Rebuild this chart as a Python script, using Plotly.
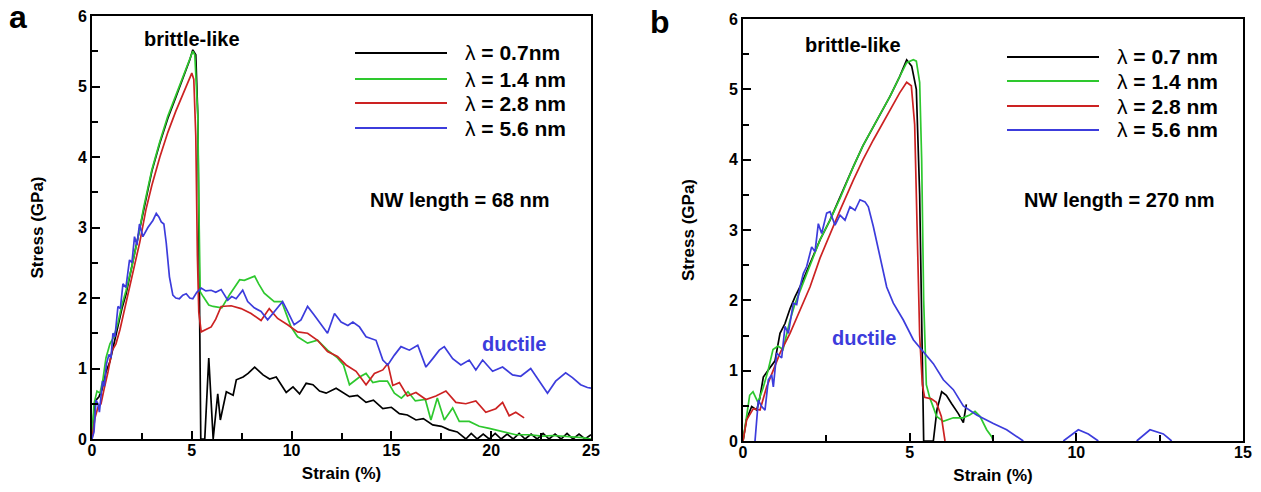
import plotly.graph_objects as go

# ---------------- data: panel a (NW length = 68 nm) ----------------
a07_x = [0, 0.1, 0.2, 0.35, 0.5, 0.7, 0.9, 1.1, 1.3, 1.5, 1.7, 2.0, 2.3, 2.6, 3.0, 3.4, 3.8, 4.2, 4.6, 4.9, 5.05,
         5.2, 5.3, 5.38, 5.45, 5.65, 5.85, 6.07, 6.3, 6.43, 6.73, 7.07, 7.23, 7.57, 7.82, 8.15, 8.57, 8.9, 9.23,
         9.73, 10.07, 10.4, 10.73, 11.07, 11.4, 11.73, 12.23, 12.9, 13.3, 13.73, 14.1, 14.57, 15.0, 15.4, 15.8,
         16.23, 16.6, 17.07, 17.5, 17.9, 18.3, 18.73, 19.0, 19.3, 19.6, 19.9, 20.2, 20.5, 20.8, 21.1, 21.4, 21.7,
         22.0, 22.3, 22.6, 22.9, 23.2, 23.5, 23.8, 24.1, 24.4, 24.7, 25.0]
a07_y = [0, 0.4, 0.55, 0.6, 0.7, 0.95, 1.1, 1.35, 1.6, 1.85, 2.05, 2.45, 2.85, 3.3, 3.8, 4.2, 4.55, 4.85, 5.15,
         5.38, 5.52, 5.45, 4.6, 2.5, 0, 0, 1.15, 0, 0.64, 0.27, 0.67, 0.62, 0.84, 0.88, 0.93, 1.02, 0.91, 0.85,
         0.88, 0.66, 0.74, 0.64, 0.79, 0.77, 0.68, 0.65, 0.72, 0.6, 0.62, 0.52, 0.55, 0.43, 0.45, 0.36, 0.34,
         0.27, 0.29, 0.2, 0.18, 0.13, 0.1, 0.0, 0.08, 0.0, 0.07, 0.0, 0.08, 0.0, 0.07, 0.0, 0.08, 0.0, 0.07,
         0.0, 0.08, 0.0, 0.07, 0.0, 0.08, 0.0, 0.07, 0.0, 0.06]

a14_x = [0, 0.1, 0.25, 0.4, 0.55, 0.7, 0.9, 1.1, 1.3, 1.5, 1.7, 2.0, 2.3, 2.6, 3.0, 3.4, 3.8, 4.2, 4.6, 4.9, 5.05,
         5.15, 5.3, 5.36, 5.42, 5.57, 5.85, 6.07, 6.5, 6.9, 7.4, 7.63, 8.15, 8.35, 8.63, 9.13, 9.5, 9.75, 9.97,
         10.3, 10.8, 11.3, 11.8, 12.3, 12.6, 12.9, 13.4, 13.73, 14.07, 14.4, 14.8, 15.15, 15.5, 15.83, 16.2, 16.7,
         16.98, 17.3, 17.65, 18.07, 18.4, 18.9, 19.4, 19.9, 20.57, 21.23, 21.9, 22.57, 23.1, 23.57, 24.1, 24.57, 25.0]
a14_y = [0, 0.5, 0.68, 0.65, 0.85, 1.15, 1.35, 1.45, 1.65, 1.9, 2.1, 2.45, 2.85, 3.3, 3.82, 4.22, 4.58, 4.88,
         5.18, 5.4, 5.5, 5.45, 4.6, 3.2, 2.09, 2.02, 1.9, 1.88, 1.86, 2.05, 2.26, 2.25, 2.31, 2.2, 2.07, 1.95,
         1.95, 1.76, 1.59, 1.45, 1.36, 1.4, 1.26, 1.15, 1.05, 0.77, 0.88, 0.93, 0.8, 0.82, 0.82, 0.65, 0.58,
         0.67, 0.54, 0.56, 0.27, 0.58, 0.27, 0.44, 0.25, 0.25, 0.18, 0.15, 0.11, 0.06, 0.06, 0.04, 0.05, 0.04,
         0.03, 0.02, 0.0]

a28_x = [0, 0.15, 0.3, 0.45, 0.6, 0.8, 1.0, 1.2, 1.4, 1.6, 1.8, 2.1, 2.4, 2.7, 3.0, 3.4, 3.8, 4.2, 4.6, 4.9, 5.0,
         5.1, 5.2, 5.28, 5.35, 5.47, 5.7, 5.97, 6.2, 6.47, 6.97, 7.47, 7.97, 8.47, 8.88, 9.3, 9.8, 10.3, 10.8,
         11.3, 11.8, 12.3, 12.73, 13.23, 13.73, 14.15, 14.57, 14.82, 15.07, 15.4, 15.8, 16.23, 16.73, 17.23,
         17.73, 18.23, 18.73, 19.23, 19.73, 20.23, 20.57, 20.9, 21.23, 21.65]
a28_y = [0, 0.3, 0.45, 0.5, 0.7, 0.95, 1.25, 1.35, 1.55, 1.8, 2.05, 2.4, 2.8, 3.25, 3.6, 4.0, 4.35, 4.65, 4.93,
         5.12, 5.19, 5.1, 4.3, 2.6, 1.8, 1.52, 1.55, 1.59, 1.7, 1.88, 1.89, 1.85, 1.78, 1.68, 1.85, 1.71, 1.62,
         1.52, 1.5, 1.4, 1.24, 1.17, 1.05, 0.96, 0.77, 0.93, 0.98, 1.07, 0.76, 0.8, 0.61, 0.66, 0.56, 0.61, 0.68,
         0.52, 0.5, 0.54, 0.38, 0.43, 0.52, 0.33, 0.38, 0.3]

a56_x = [0, 0.1, 0.2, 0.3, 0.37, 0.45, 0.53, 0.62, 0.72, 0.85, 0.95, 1.05, 1.15, 1.3, 1.42, 1.55, 1.7, 1.88, 2.0,
         2.13, 2.25, 2.38, 2.55, 2.8, 3.05, 3.22, 3.35, 3.47, 3.6, 3.72, 3.88, 4.05, 4.2, 4.38, 4.55, 4.72, 4.9,
         5.05, 5.25, 5.47, 5.7, 5.97, 6.2, 6.47, 6.8, 7.0, 7.22, 7.55, 7.8, 8.13, 8.47, 8.8, 9.13, 9.55, 9.8,
         10.13, 10.47, 10.8, 11.13, 11.47, 11.8, 12.15, 12.48, 12.82, 13.07, 13.4, 13.73, 14.23, 14.57, 14.82,
         15.15, 15.48, 15.9, 16.32, 16.73, 17.07, 17.4, 17.65, 18.07, 18.48, 18.9, 19.23, 19.57, 20.07, 20.57,
         21.07, 21.48, 21.98, 22.4, 22.82, 23.23, 23.73, 24.07, 24.48, 24.82, 25.0]
a56_y = [0, 0.1, 0.55, 0.5, 0.38, 0.6, 0.82, 0.75, 1.06, 1.2, 1.15, 1.5, 1.45, 1.88, 1.85, 2.2, 2.15, 2.54, 2.5,
         2.87, 2.75, 3.05, 2.87, 3.0, 3.1, 3.2, 3.15, 3.08, 3.05, 2.78, 2.3, 2.04, 2.0, 1.99, 2.04, 2.06, 2.0,
         1.99, 2.08, 2.14, 2.1, 2.11, 2.08, 2.12, 1.97, 2.02, 1.99, 2.11, 1.95, 1.86, 1.81, 1.69, 1.81, 1.95,
         1.81, 1.62, 1.69, 1.88, 1.76, 1.62, 1.5, 1.78, 1.66, 1.61, 1.66, 1.59, 1.45, 1.4, 1.12, 1.05, 1.19,
         1.31, 1.26, 1.33, 1.02, 1.14, 1.26, 1.31, 1.14, 1.05, 1.12, 0.98, 1.12, 0.96, 1.02, 0.91, 0.89, 1.0,
         0.82, 0.65, 0.82, 0.94, 0.87, 0.77, 0.73, 0.72]

# ---------------- data: panel b (NW length = 270 nm) ----------------
b07_x = [0, 0.1, 0.26, 0.41, 0.5, 0.61, 0.76, 0.96, 1.11, 1.26, 1.41, 1.56, 1.76, 2.01, 2.31, 2.61, 2.91, 3.31,
         3.6, 3.91, 4.2, 4.41, 4.7, 4.91, 5.06, 5.2, 5.3, 5.37, 5.42, 5.71, 5.82, 5.96, 6.1, 6.26, 6.46, 6.61,
         6.66, 6.7]
b07_y = [0, 0.3, 0.49, 0.44, 0.6, 0.91, 1.01, 1.14, 1.53, 1.67, 1.88, 2.05, 2.24, 2.52, 2.86, 3.14, 3.47, 3.9,
         4.2, 4.47, 4.72, 4.9, 5.18, 5.42, 5.33, 5.0, 3.5, 1.5, 0, 0, 0.45, 0.7, 0.65, 0.53, 0.39, 0.26, 0.45, 0.52]

b14_x = [0, 0.1, 0.2, 0.3, 0.45, 0.6, 0.75, 0.9, 1.05, 1.2, 1.4, 1.56, 1.76, 2.01, 2.31, 2.61, 2.91, 3.31, 3.6,
         3.91, 4.2, 4.41, 4.7, 4.91, 5.11, 5.2, 5.3, 5.36, 5.42, 5.5, 5.6, 5.81, 6.01, 6.31, 6.6, 6.8, 6.96, 7.11,
         7.31, 7.46, 7.51]
b14_y = [0, 0.35, 0.65, 0.7, 0.55, 0.75, 1.0, 1.3, 1.35, 1.3, 1.7, 1.95, 2.2, 2.5, 2.86, 3.14, 3.45, 3.9, 4.2,
         4.47, 4.72, 4.9, 5.18, 5.38, 5.42, 5.4, 5.1, 4.0, 2.0, 0.8, 0.62, 0.35, 0.28, 0.33, 0.33, 0.37, 0.42,
         0.35, 0.16, 0.06, 0.0]

b28_x = [0, 0.11, 0.31, 0.51, 0.71, 0.91, 1.11, 1.41, 1.71, 2.01, 2.31, 2.61, 2.91, 3.31, 3.6, 3.91, 4.2, 4.41,
         4.7, 4.91, 5.05, 5.15, 5.23, 5.3, 5.38, 5.45, 5.65, 5.8, 5.95, 6.06]
b28_y = [0, 0.3, 0.46, 0.44, 0.77, 1.01, 1.25, 1.53, 1.86, 2.19, 2.6, 2.95, 3.28, 3.71, 4.0, 4.28, 4.52, 4.71,
         4.95, 5.1, 5.05, 4.5, 3.0, 1.5, 0.8, 0.62, 0.6, 0.55, 0.35, 0.0]

b56_x = [0.36, 0.46, 0.56, 0.66, 0.76, 0.86, 0.91, 1.01, 1.16, 1.26, 1.36, 1.51, 1.61, 1.71, 1.81, 1.91, 2.06,
         2.16, 2.26, 2.36, 2.51, 2.61, 2.76, 2.91, 3.06, 3.21, 3.36, 3.51, 3.66, 3.76, 3.91, 4.11, 4.31, 4.51,
         4.81, 5.11, 5.41, 5.71, 6.01, 6.31, 6.61, 7.01, 7.51, 7.91, 8.41, None, 9.61, 10.06, 10.36, 10.66, None,
         11.81, 12.21, 12.61, 12.86]
b56_y = [0, 0.58, 0.49, 0.44, 0.87, 0.94, 0.77, 1.25, 1.18, 1.63, 1.53, 1.96, 1.94, 2.19, 2.38, 2.48, 2.76,
         2.69, 3.09, 2.95, 3.24, 3.26, 3.07, 3.21, 3.14, 3.33, 3.28, 3.43, 3.4, 3.33, 3.05, 2.62, 2.19, 1.96,
         1.72, 1.44, 1.27, 1.1, 0.87, 0.73, 0.5, 0.37, 0.25, 0.16, 0.0, None, 0, 0.16, 0.1, 0, None, 0, 0.16, 0.1, 0]

legend_a = ["λ<b> = 0.7nm</b>", "λ<b> = 1.4 nm</b>", "λ<b> = 2.8 nm</b>", "λ<b> = 5.6 nm</b>"]
legend_b = ["λ<b> = 0.7 nm</b>", "λ<b> = 1.4 nm</b>", "λ<b> = 2.8 nm</b>", "λ<b> = 5.6 nm</b>"]
colors = ["#000000", "#2ec82e", "#cc2222", "#3c3cdc"]

W, H = 1261, 492
FONT = "Liberation Sans, Arial, sans-serif"

fig = go.Figure()
series_a = [(a07_x, a07_y), (a14_x, a14_y), (a28_x, a28_y), (a56_x, a56_y)]
series_b = [(b07_x, b07_y), (b14_x, b14_y), (b28_x, b28_y), (b56_x, b56_y)]
for (x, y), c, n in zip(series_a, colors, legend_a):
    fig.add_trace(go.Scatter(x=x, y=y, mode="lines", line=dict(color=c, width=1.7),
                             name=n, showlegend=False, xaxis="x", yaxis="y"))
for (x, y), c, n in zip(series_b, colors, legend_b):
    fig.add_trace(go.Scatter(x=x, y=y, mode="lines", line=dict(color=c, width=1.7),
                             name=n, showlegend=False, xaxis="x2", yaxis="y2", connectgaps=False))


def px_x(p):
    return p / W


def px_y(p):
    return 1 - p / H


axis_common = dict(showline=True, linecolor="black", linewidth=2, mirror=True, showgrid=False, zeroline=False,
                   automargin=False,
                   ticks="inside", ticklen=8, tickwidth=2, tickcolor="black",
                   tickfont=dict(family=FONT, size=16, color="black", weight="bold"),
                   title_font=dict(family=FONT, size=17, color="black", weight="bold"))
minor_common = dict(ticks="inside", ticklen=6, tickwidth=2, tickcolor="black")

fig.update_layout(
    width=W, height=H, margin=dict(l=0, r=0, t=0, b=0),
    paper_bgcolor="white", plot_bgcolor="white",
    xaxis=dict(domain=[px_x(92), px_x(591)], range=[0, 25], dtick=5, minor=dict(dtick=2.5, **minor_common),
               ticklabelstandoff=-4, title=dict(text="Strain (%)", standoff=9), anchor="y", **axis_common),
    yaxis=dict(domain=[px_y(439), px_y(16)], range=[0, 6], dtick=1, minor=dict(dtick=0.5, **minor_common),
               title=dict(text="Stress (GPa)", standoff=30), anchor="x", **axis_common),
    xaxis2=dict(domain=[px_x(743), px_x(1243)], range=[0, 15], dtick=5, minor=dict(dtick=2.5, **minor_common),
                ticklabelstandoff=-4, title=dict(text="Strain (%)", standoff=9), anchor="y2", **axis_common),
    yaxis2=dict(domain=[px_y(441), px_y(19)], range=[0, 6], dtick=1, minor=dict(dtick=0.5, **minor_common),
                title=dict(text="Stress (GPa)", standoff=30), anchor="x2", **axis_common),
)

shapes = []
annotations = []
# manual legends (long line samples like the reference)
leg_a_rows = [53, 79, 103, 128]
leg_b_rows = [57, 81, 106, 130]
for rows, x0, x1, xt, labels in [(leg_a_rows, 355, 447, 463, legend_a), (leg_b_rows, 1007, 1099, 1115, legend_b)]:
    for r, c, lab in zip(rows, colors, labels):
        shapes.append(dict(type="line", xref="paper", yref="paper", x0=px_x(x0), x1=px_x(x1),
                           y0=px_y(r), y1=px_y(r), line=dict(color=c, width=2)))
        annotations.append(dict(text=lab, xref="paper", yref="paper", x=px_x(xt), y=px_y(r),
                                xanchor="left", yanchor="middle", showarrow=False,
                                font=dict(family=FONT, size=21, color="black")))

txt = dict(showarrow=False, xanchor="center", yanchor="middle")
annotations += [
    dict(text="<b>brittle-like</b>", xref="x", yref="y", x=5.0, y=5.67,
         font=dict(family=FONT, size=20, color="black"), **txt),
    dict(text="<b>NW length = 68 nm</b>", xref="x", yref="y", x=18.4, y=3.39,
         font=dict(family=FONT, size=20, color="black"), **txt),
    dict(text="<b>ductile</b>", xref="x", yref="y", x=21.15, y=1.35,
         font=dict(family=FONT, size=20, color="#3c3cdc"), **txt),
    dict(text="<b>brittle-like</b>", xref="x2", yref="y2", x=3.3, y=5.63,
         font=dict(family=FONT, size=20, color="black"), **txt),
    dict(text="<b>NW length = 270 nm</b>", xref="x2", yref="y2", x=11.28, y=3.43,
         font=dict(family=FONT, size=20, color="black"), **txt),
    dict(text="<b>ductile</b>", xref="x2", yref="y2", x=3.63, y=1.46,
         font=dict(family=FONT, size=20, color="#3c3cdc"), **txt),
    dict(text="<b>a</b>", xref="paper", yref="paper", x=px_x(18), y=px_y(17),
         font=dict(family=FONT, size=32, color="black"), **txt),
    dict(text="<b>b</b>", xref="paper", yref="paper", x=px_x(660), y=px_y(22),
         font=dict(family=FONT, size=32, color="black"), **txt),
]
fig.update_layout(shapes=shapes, annotations=annotations)

fig.write_html("out.html", config={"displayModeBar": False},
               post_script="document.body.style.margin='0';document.body.style.padding='0';"
                           "document.documentElement.style.overflow='hidden';")
